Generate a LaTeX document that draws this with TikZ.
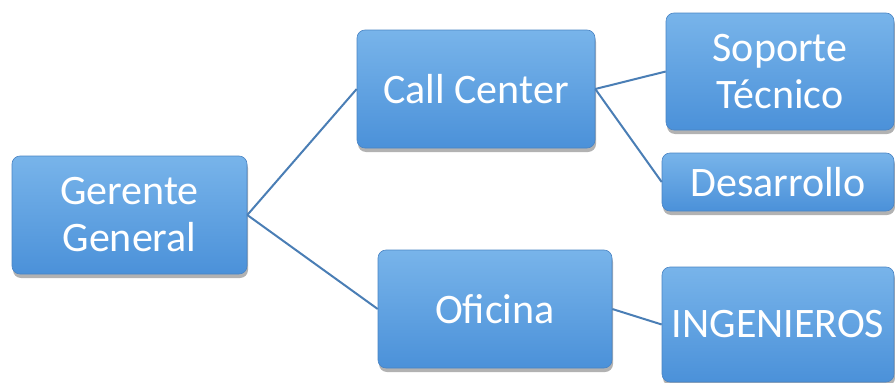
\documentclass[tikz,border=0pt]{standalone}
\usepackage{fontspec}
\setmainfont{Carlito}
\usetikzlibrary{shadows}
\definecolor{boxtop}{HTML}{78B4EA}
\definecolor{boxbot}{HTML}{4B91D9}
\definecolor{boxedge}{HTML}{4A84C4}
\definecolor{linkc}{HTML}{4A7EB5}
\tikzset{
  orgbox/.style={rectangle, rounded corners=8pt, top color=boxtop, bottom color=boxbot,
    draw=boxedge, line width=0.6pt, text=white, align=center, inner sep=0pt,
    font=\fontsize{42}{47}\selectfont,
    drop shadow={shadow xshift=1pt, shadow yshift=-4pt, opacity=0.3, fill=black}},
  link/.style={draw=linkc, line width=2pt}
}
\begin{document}
\begin{tikzpicture}[x=1pt,y=-1pt]
\useasboundingbox (0,0) rectangle (895,383);
\node[orgbox, minimum width=235pt, minimum height=118pt] (gg) at (129.5,215) {Gerente\\General};
\node[orgbox, minimum width=238pt, minimum height=118pt] (cc) at (476,89) {Call Center};
\node[orgbox, minimum width=234pt, minimum height=118pt] (of) at (495,309) {Oficina};
\node[orgbox, minimum width=228pt, minimum height=117pt] (st) at (780,71.5) {Soporte\\Técnico};
\node[orgbox, minimum width=232pt, minimum height=58pt] (de) at (778,182) {Desarrollo};
\node[orgbox, minimum width=232pt, minimum height=115pt] (in) at (778,324.5) {INGENIEROS};
\draw[link] (gg.east) -- (cc.west);
\draw[link] (gg.east) -- (of.west);
\draw[link] (cc.east) -- (st.west);
\draw[link] (cc.east) -- (de.west);
\draw[link] (of.east) -- (in.west);
\end{tikzpicture}
\end{document}
